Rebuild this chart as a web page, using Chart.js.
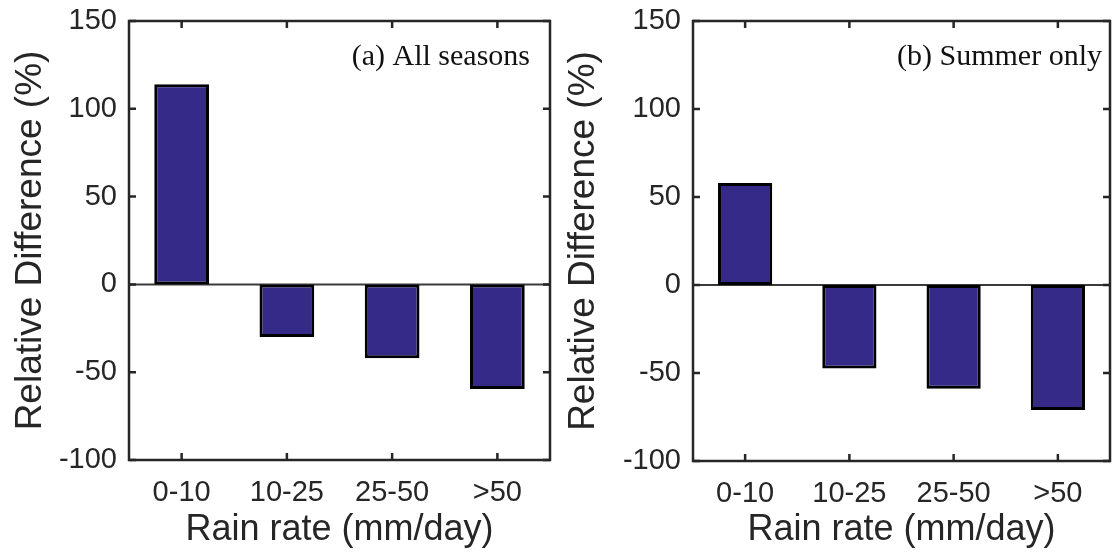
<!DOCTYPE html>
<html>
<head>
<meta charset="utf-8">
<script src="https://cdn.jsdelivr.net/npm/chart.js@4.4.0/dist/chart.umd.min.js"></script>
<style>
  html, body { margin: 0; padding: 0; background: #fff; }
  #wrap { position: relative; width: 1112px; height: 554px; }
  .panel { position: absolute; top: 0; }
</style>
</head>
<body>
<div id="wrap">
  <canvas id="chartA" class="panel" style="left:0" width="556" height="554"></canvas>
  <canvas id="chartB" class="panel" style="left:556px" width="556" height="554"></canvas>
</div>
<script>
// Data
const rainRates = ['0-10', '10-25', '25-50', '>50'];
const allSeasons = [114, -30, -42, -59.5];
const summerOnly = [58, -47.5, -59, -71];
const yMin = -100;
const yMax = 150;
const yStep = 50;

const axisColor = '#262626';
const barFill = '#352a87';
const sans = '"Liberation Sans", Arial, sans-serif';

Chart.defaults.font.family = sans;
Chart.defaults.color = axisColor;

// Box around the plot, inward ticks, zero baseline and panel label
const frame = {
  id: 'frame',
  beforeDatasetsDraw(chart) {
    const { ctx, chartArea: a, scales: { y } } = chart;
    const y0 = y.getPixelForValue(0);
    ctx.save();
    ctx.strokeStyle = '#3a3a3a';
    ctx.lineWidth = 2;
    ctx.beginPath();
    ctx.moveTo(a.left, y0);
    ctx.lineTo(a.right, y0);
    ctx.stroke();
    ctx.restore();
  },
  afterDraw(chart, args, opts) {
    const { ctx, chartArea: a, scales: { x, y } } = chart;
    const tl = 7;
    ctx.save();
    ctx.strokeStyle = axisColor;
    ctx.lineWidth = 2.5;
    ctx.strokeRect(a.left, a.top, a.right - a.left, a.bottom - a.top);
    ctx.beginPath();
    x.ticks.forEach((t, i) => {
      const px = x.getPixelForTick(i);
      ctx.moveTo(px, a.top); ctx.lineTo(px, a.top + tl);
      ctx.moveTo(px, a.bottom); ctx.lineTo(px, a.bottom - tl);
    });
    y.ticks.forEach((t, i) => {
      const py = y.getPixelForTick(i);
      ctx.moveTo(a.left, py); ctx.lineTo(a.left + tl, py);
      ctx.moveTo(a.right, py); ctx.lineTo(a.right - tl, py);
    });
    ctx.stroke();

    ctx.fillStyle = '#111';
    ctx.font = '30px "Liberation Serif", "Times New Roman", serif';
    ctx.textAlign = 'right';
    ctx.textBaseline = 'alphabetic';
    ctx.fillText(opts.text, a.right - opts.inset, a.top + 44);
    ctx.restore();
  }
};

function makeChart(id, values, label, geom) {
  return new Chart(document.getElementById(id), {
    type: 'bar',
    data: {
      labels: rainRates,
      datasets: [{
        data: values,
        backgroundColor: barFill,
        borderColor: '#000',
        borderWidth: 3,
        borderSkipped: false,
        barPercentage: 0.52,
        categoryPercentage: 1
      }]
    },
    options: {
      responsive: false,
      animation: false,
      devicePixelRatio: 1,
      layout: { padding: { left: 0, right: geom.right, top: geom.top, bottom: 0 } },
      plugins: {
        legend: { display: false },
        tooltip: { enabled: false },
        frame: { text: label, inset: geom.inset }
      },
      scales: {
        x: {
          offset: true,
          grid: { display: false, drawTicks: false },
          border: { display: false },
          ticks: { color: axisColor, font: { size: 29 }, padding: 16 },
          title: {
            display: true,
            text: 'Rain rate (mm/day)',
            color: axisColor,
            font: { size: 36 },
            padding: { top: 0, bottom: 2 }
          },
          afterFit(s) {
            s.height = 554 - geom.bottom;
            s.paddingLeft = 0;
            s.paddingRight = 0;
          }
        },
        y: {
          min: yMin,
          max: yMax,
          grid: { display: false, drawTicks: false },
          border: { display: false },
          ticks: { stepSize: yStep, color: axisColor, font: { size: 29 }, padding: 12 },
          title: {
            display: true,
            text: 'Relative Difference (%)',
            color: axisColor,
            font: { size: 37 },
            padding: { top: geom.titlePad, bottom: 0 }
          },
          afterFit(s) {
            s.width = geom.left;
            s.paddingTop = 0;
            s.paddingBottom = 0;
          }
        }
      }
    },
    plugins: [frame]
  });
}

makeChart('chartA', allSeasons, '(a) All seasons',
  { left: 129, right: 6, top: 21, bottom: 460, inset: 20, titlePad: 9 });
makeChart('chartB', summerOnly, '(b) Summer only',
  { left: 137, right: 2, top: 21, bottom: 461, inset: 8, titlePad: 6 });
</script>
</body>
</html>
